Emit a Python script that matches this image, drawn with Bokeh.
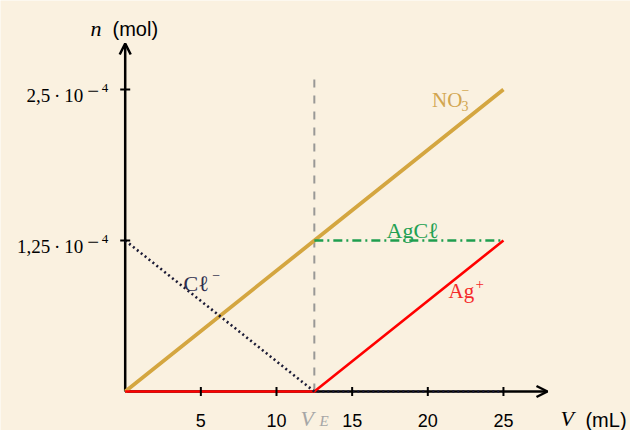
import math
from bokeh.plotting import figure
from bokeh.models import Arrow, OpenHead, Label, Range1d
from bokeh.core.properties import value
from bokeh.embed import file_html
from bokeh.resources import INLINE

# ---- data ----
V = [0, 12.5, 25]                      # mL
n_NO3 = [0, 1.25e-4, 2.5e-4]           # mol
n_Cl = [1.25e-4, 0, 0]
n_Ag = [0, 0, 1.25e-4]
V_AgCl = [12.5, 25]
n_AgCl = [1.25e-4, 1.25e-4]
V_E = 12.5
VE_top = 2.6e-4

x_ticks = [5, 10, 15, 20, 25]
x_tick_labels = ["5", "10", "15", "20", "25"]
y_ticks = [1.25e-4, 2.5e-4]
y_tick_labels = ["1,25\u2009·\u200910", "2,5\u2009·\u200910"]
y_tick_exp = ["\u22124", "\u22124"]

x_axis_end = 27.91
y_axis_end = 2.881e-4

BG = "#FAF1E0"
GOLD = "#D4A640"
RED = "#FF0000"
GREEN = "#1F9E4F"
NAVY = "#1B1B36"
SERIF = "Liberation Serif"
SANS = "Liberation Sans"

p = figure(width=630, height=430,
           x_range=Range1d(-8.242, 33.397), y_range=Range1d(-0.3228e-4, 3.2368e-4),
           x_axis_location=None, y_axis_location=None,
           toolbar_location=None, output_backend="svg", min_border=0,
           background_fill_color=BG, border_fill_color=BG, outline_line_color=None)
p.grid.visible = False

# axes as arrows (below glyphs)
p.add_layout(Arrow(end=OpenHead(size=11, line_width=2.5, line_color="black"),
                   x_start=0, y_start=0, x_end=x_axis_end, y_end=0,
                   line_width=2.5, line_color="black", level="underlay"))
p.add_layout(Arrow(end=OpenHead(size=11, line_width=2.5, line_color="black"),
                   x_start=0, y_start=0, x_end=0, y_end=y_axis_end,
                   line_width=2.5, line_color="black", level="underlay"))

# equivalence line
p.line([V_E, V_E], [0, VE_top], line_color="#8E8E8E", line_width=2, line_dash="8 8", line_alpha=0.9)

# curves
p.line(V, n_NO3, line_color=GOLD, line_width=3.8)
p.line(V_AgCl, n_AgCl, line_color=GREEN, line_width=2.6, line_dash="9 4 2 4")
p.line(V, n_Ag, line_color=RED, line_width=2.6)
p.line(V, n_Cl, line_color=NAVY, line_width=2.6, line_dash="2 3")

# ticks
p.scatter(x=x_ticks, y=[0] * len(x_ticks), marker="dash", size=9, angle=math.pi / 2,
          line_color="black", line_width=2)
p.scatter(x=[0] * len(y_ticks), y=y_ticks, marker="dash", size=10,
          line_color="black", line_width=2)

# tick labels
p.text(x=x_ticks, y=[0] * len(x_ticks), text=x_tick_labels,
       text_font=value(SANS), text_font_size="18px", text_color="black",
       text_align="center", text_baseline="alphabetic", y_offset=29)
p.text(x=[0] * len(y_ticks), y=y_ticks, text=y_tick_labels,
       text_font=value(SERIF), text_font_size="19px", text_color="black",
       text_align="right", text_baseline="alphabetic", x_offset=-42, y_offset=6)
# exponent: sign and digit drawn separately (superscript look)
p.text(x=[0] * len(y_ticks), y=y_ticks, text=[e[0] for e in y_tick_exp],
       text_font=value(SERIF), text_font_size="21px", text_color="black",
       text_align="right", text_baseline="alphabetic", x_offset=-26, y_offset=1)
p.text(x=[0] * len(y_ticks), y=y_ticks, text=[e[1:] for e in y_tick_exp],
       text_font=value(SERIF), text_font_size="13px", text_color="black",
       text_align="right", text_baseline="alphabetic", x_offset=-17, y_offset=-2)

def lab(x, y, text, font=SERIF, size="20px", color="black", style="normal", align="left"):
    p.add_layout(Label(x=x, y=y, text=text, text_font=font, text_font_size=size,
                       text_color=color, text_font_style=style, text_align=align,
                       text_baseline="alphabetic"))

# axis titles
lab(-2.293, 3.005e-4, "n", size="22px", style="italic")
lab(-0.839, 2.997e-4, "(mol)", font=SANS, size="20px")
lab(28.77, -0.2235e-4, "V", size="22px", style="italic")
lab(30.42, -0.2318e-4, "(mL)", font=SANS, size="20px")
lab(11.59, -0.2235e-4, "V", size="22px", style="italic", color="#A6A6A6")
lab(12.85, -0.248e-4, "E", size="15px", style="italic", color="#A6A6A6")

# species labels
lab(22.29, 2.409e-4, "NO", size="21px", color="#D2A650", align="right")
lab(22.22, 2.36e-4, "3", size="14px", color="#D2A650")
lab(22.22, 2.492e-4, "\u2212", size="14px", color="#D2A650")
lab(17.27, 1.333e-4, "AgC\u2113", size="22px", color="#22A052")
lab(3.853, 0.894e-4, "C\u2113", size="22px", color="#2E2E4E")
lab(5.75, 0.9685e-4, "\u2212", size="14px", color="#2E2E4E")
lab(21.37, 0.828e-4, "Ag", size="21px", color="#F52A2A")
lab(23.15, 0.89e-4, "+", size="15px", color="#F52A2A")

open("out.html", "w").write(file_html(p, INLINE))
